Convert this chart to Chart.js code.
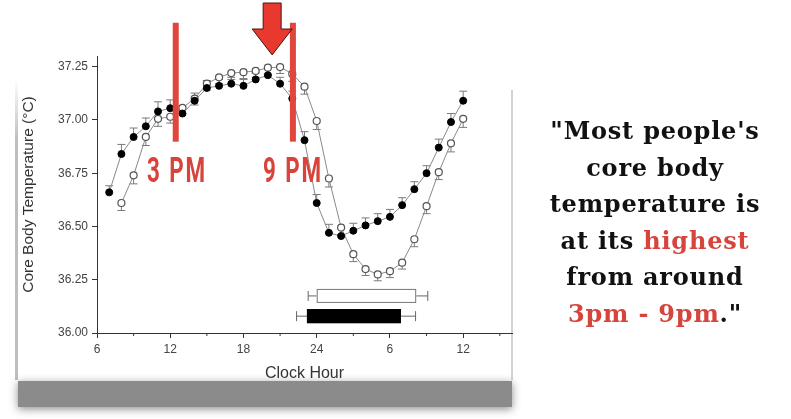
<!DOCTYPE html>
<html>
<head>
<meta charset="utf-8">
<script src="https://cdn.jsdelivr.net/npm/chart.js@4.4.1/dist/chart.umd.min.js"></script>
<style>
  body { margin: 0; background: #fff; }
  #wrap { position: relative; width: 791px; height: 419px; overflow: hidden; }
  #chart { position: absolute; left: 0; top: 0; }
  .pm {
    position: absolute; top: 150px; color: #d8433b;
    font-family: Roboto, "Liberation Sans", sans-serif; font-weight: 700;
    font-size: 35px; letter-spacing: 3px; white-space: nowrap;
    transform: scaleX(0.64); transform-origin: left top;
  }
  #quote {
    position: absolute; left: 525px; top: 113px; width: 260px;
    text-align: center; font-family: "DejaVu Serif", serif; font-weight: bold;
    font-size: 24px; letter-spacing: 0.8px; line-height: 36.5px; color: #111;
  }
  #quote .red { color: #d6443c; }
</style>
</head>
<body>
<div id="wrap">
  <canvas id="chart" width="791" height="419"></canvas>
  <div class="pm" style="left:147px">3 PM</div>
  <div class="pm" style="left:263px">9 PM</div>
  <div id="quote">"Most people's<br>core body<br>temperature is<br>at its <span class="red">highest</span><br>from around<br><span class="red">3pm - 9pm</span>."</div>
</div>
<script>
// clock hours (hours after 24 continue as 25, 26, ...)
const filledHours = [7, 8, 9, 10, 11, 12, 13, 14, 15, 16, 17, 18, 19, 20, 21, 22, 23, 24, 25, 26, 27, 28, 29, 30, 31, 32, 33, 34, 35, 36];
const filledTemp = [36.66, 36.84, 36.92, 36.97, 37.04, 37.055, 37.03, 37.09, 37.15, 37.16, 37.17, 37.16, 37.19, 37.21, 37.17, 37.10, 36.905, 36.61, 36.47, 36.455, 36.48, 36.505, 36.525, 36.545, 36.60, 36.675, 36.75, 36.87, 36.99, 37.09];
const filledErr = [0.031, 0.045, 0.042, 0.039, 0.045, 0.039, 0.035, 0.036, 0.035, 0.03, 0.03, 0.03, 0.03, 0.035, 0.03, 0.035, 0.04, 0.04, 0.04, 0.035, 0.035, 0.035, 0.035, 0.035, 0.035, 0.035, 0.035, 0.04, 0.04, 0.045];

const openHours = [8, 9, 10, 11, 12, 13, 14, 15, 16, 17, 18, 19, 20, 21, 22, 23, 24, 25, 26, 27, 28, 29, 30, 31, 32, 33, 34, 35, 36];
const openTemp = [36.61, 36.74, 36.92, 37.005, 37.015, 37.057, 37.10, 37.17, 37.20, 37.22, 37.224, 37.23, 37.245, 37.248, 37.216, 37.156, 36.995, 36.725, 36.495, 36.37, 36.30, 36.275, 36.29, 36.33, 36.44, 36.595, 36.755, 36.89, 37.005];
const openErr = [0.035, 0.04, 0.04, 0.035, 0.03, 0.03, 0.03, 0.03, 0.03, 0.03, 0.03, 0.03, 0.03, 0.03, 0.035, 0.035, 0.04, 0.04, 0.035, 0.035, 0.03, 0.03, 0.03, 0.03, 0.035, 0.035, 0.035, 0.04, 0.04];

// sleep episodes: open group, filled group
const sleepOnset = [24.0, 23.2];
const sleepOffset = [32.15, 30.9];
const sleepOnsetSD = [0.7, 0.85];
const sleepOffsetSD = [0.95, 1.2];
const sleepLevel = [36.174, 36.079];

const xTickValues = [6, 12, 18, 24, 30, 36];
const xTickLabels = ['6', '12', '18', '24', '6', '12'];
const xMinorTicks = [9, 15, 21, 27, 33, 39];
const yTickValues = [36.00, 36.25, 36.50, 36.75, 37.00, 37.25];
const yTickLabels = ['36.00', '36.25', '36.50', '36.75', '37.00', '37.25'];

// red markers added on top of the figure (hour positions)
const markerHours = [12.45, 22.05];
const arrowHour = 20.35;

const toPoints = (xs, ys) => xs.map((x, i) => ({ x: x, y: ys[i] }));

// background panel with shadow
const panelPlugin = {
    id: 'panel',
    beforeDraw(chart) {
        const ctx = chart.ctx;
        ctx.save();
        ctx.fillStyle = '#fff';
        ctx.fillRect(0, 0, chart.width, chart.height);
        // left edge shade
        const g = ctx.createLinearGradient(0, 80, 0, 140);
        g.addColorStop(0, 'rgba(190,190,190,0)');
        g.addColorStop(1, 'rgba(190,190,190,1)');
        ctx.fillStyle = g;
        ctx.fillRect(15, 80, 3, 300);
        // right edge
        ctx.fillStyle = 'rgba(200,200,200,0.8)';
        ctx.fillRect(511, 90, 2, 290);
        // bottom band
        ctx.shadowColor = 'rgba(0,0,0,0.45)';
        ctx.shadowBlur = 8;
        ctx.shadowOffsetY = 2;
        ctx.fillStyle = '#8b8b8b';
        ctx.fillRect(18, 381, 494, 26);
        ctx.restore();
    }
};

// one sided error bars: filled go up, open go down
const errorBarPlugin = {
    id: 'errorBars',
    beforeDatasetsDraw(chart) {
        const ctx = chart.ctx;
        const yScale = chart.scales.y;
        ctx.save();
        ctx.strokeStyle = '#7a7a7a';
        ctx.lineWidth = 1;
        chart.data.datasets.forEach((ds, di) => {
            const meta = chart.getDatasetMeta(di);
            meta.data.forEach((pt, i) => {
                const v = ds.data[i].y;
                const end = ds.errDir > 0 ? v + ds.err[i] : v - ds.err[i];
                const yEnd = yScale.getPixelForValue(end);
                ctx.beginPath();
                ctx.moveTo(pt.x, pt.y);
                ctx.lineTo(pt.x, yEnd);
                ctx.moveTo(pt.x - 4, yEnd);
                ctx.lineTo(pt.x + 4, yEnd);
                ctx.stroke();
            });
        });
        ctx.restore();
    }
};

// sleep bars and minor ticks
const sleepPlugin = {
    id: 'sleepBars',
    afterDatasetsDraw(chart) {
        const ctx = chart.ctx;
        const xs = chart.scales.x;
        const ys = chart.scales.y;
        ctx.save();
        ctx.lineWidth = 1;
        sleepLevel.forEach((lvl, i) => {
            const yc = ys.getPixelForValue(lvl);
            const x0 = xs.getPixelForValue(sleepOnset[i]);
            const x1 = xs.getPixelForValue(sleepOffset[i]);
            const w0 = xs.getPixelForValue(sleepOnset[i] - sleepOnsetSD[i]);
            const w1 = xs.getPixelForValue(sleepOffset[i] + sleepOffsetSD[i]);
            ctx.strokeStyle = '#666';
            ctx.beginPath();
            ctx.moveTo(w0, yc); ctx.lineTo(x0, yc);
            ctx.moveTo(x1, yc); ctx.lineTo(w1, yc);
            ctx.moveTo(w0, yc - 5); ctx.lineTo(w0, yc + 5);
            ctx.moveTo(w1, yc - 5); ctx.lineTo(w1, yc + 5);
            ctx.stroke();
            ctx.fillStyle = i === 0 ? '#fff' : '#000';
            ctx.fillRect(x0, yc - 7, x1 - x0, 14);
            ctx.strokeStyle = i === 0 ? '#777' : '#000';
            ctx.strokeRect(x0 + 0.5, yc - 7 + 0.5, x1 - x0 - 1, 13);
        });
        // minor ticks on the x axis
        ctx.strokeStyle = '#333';
        const yb = ys.getPixelForValue(36);
        xMinorTicks.forEach(h => {
            const x = xs.getPixelForValue(h);
            ctx.beginPath();
            ctx.moveTo(x, yb);
            ctx.lineTo(x, yb + 3);
            ctx.stroke();
        });
        ctx.restore();
    }
};

// red lines and arrow
const markerPlugin = {
    id: 'markers',
    afterDraw(chart) {
        const ctx = chart.ctx;
        const xs = chart.scales.x;
        const ys = chart.scales.y;
        ctx.save();
        ctx.fillStyle = '#e0463c';
        markerHours.forEach(h => {
            const x = xs.getPixelForValue(h);
            const yTop = ys.getPixelForValue(37.456);
            const yBot = ys.getPixelForValue(36.898);
            ctx.fillRect(x - 3, yTop, 6, yBot - yTop);
        });
        const ax = xs.getPixelForValue(arrowHour);
        const tip = ys.getPixelForValue(37.305);
        ctx.beginPath();
        ctx.moveTo(ax - 9, 3);
        ctx.lineTo(ax + 9, 3);
        ctx.lineTo(ax + 9, 29);
        ctx.lineTo(ax + 20, 29);
        ctx.lineTo(ax, tip);
        ctx.lineTo(ax - 20, 29);
        ctx.lineTo(ax - 9, 29);
        ctx.closePath();
        ctx.fillStyle = '#e8392e';
        ctx.fill();
        ctx.strokeStyle = '#4a1510';
        ctx.lineWidth = 1;
        ctx.stroke();
        ctx.restore();
    }
};

const ctx = document.getElementById('chart').getContext('2d');
const chart = new Chart(ctx, {
    type: 'scatter',
    data: {
        datasets: [{
            label: 'filled',
            data: toPoints(filledHours, filledTemp),
            err: filledErr,
            errDir: 1,
            showLine: true,
            borderColor: '#8a8a8a',
            borderWidth: 1,
            pointRadius: 3.5,
            pointBackgroundColor: '#000',
            pointBorderColor: '#000',
            pointBorderWidth: 1,
            order: 0
        }, {
            label: 'open',
            data: toPoints(openHours, openTemp),
            err: openErr,
            errDir: -1,
            showLine: true,
            borderColor: '#8a8a8a',
            borderWidth: 1,
            pointRadius: 3.5,
            pointBackgroundColor: '#fff',
            pointBorderColor: '#555',
            pointBorderWidth: 1.2,
            order: 1
        }]
    },
    options: {
        responsive: false,
        animation: false,
        layout: { padding: { left: 0, top: 56, right: 279, bottom: 0 } },
        plugins: { legend: { display: false }, tooltip: { enabled: false } },
        scales: {
            x: {
                type: 'linear',
                min: 6,
                max: 40,
                afterFit: s => { s.height = 86; },
                afterBuildTicks: s => { s.ticks = xTickValues.map(v => ({ value: v })); },
                grid: { drawOnChartArea: false, drawTicks: true, tickLength: 5, color: '#333' },
                border: { display: true, color: '#333', width: 1 },
                ticks: {
                    color: '#444',
                    font: { family: 'Liberation Sans, Arial', size: 12 },
                    padding: 4,
                    maxRotation: 0,
                    callback: v => xTickLabels[xTickValues.indexOf(v)]
                },
                title: {
                    display: true,
                    text: 'Clock Hour',
                    color: '#333',
                    font: { family: 'Liberation Sans, Arial', size: 16 },
                    padding: { top: 0, bottom: 36 }
                }
            },
            y: {
                min: 36,
                max: 37.3,
                afterFit: s => { s.width = 97; },
                afterBuildTicks: s => { s.ticks = yTickValues.map(v => ({ value: v })); },
                grid: { drawOnChartArea: false, drawTicks: true, tickLength: 5, color: '#333' },
                border: { display: true, color: '#333', width: 1 },
                ticks: {
                    color: '#444',
                    font: { family: 'Liberation Sans, Arial', size: 12 },
                    padding: 4,
                    callback: v => yTickLabels[yTickValues.indexOf(v)]
                },
                title: {
                    display: true,
                    text: 'Core Body Temperature (°C)',
                    color: '#333',
                    font: { family: 'Liberation Sans, Arial', size: 15.5 },
                    padding: { top: 19, bottom: 0 }
                }
            }
        }
    },
    plugins: [panelPlugin, errorBarPlugin, sleepPlugin, markerPlugin]
});
</script>
</body>
</html>
